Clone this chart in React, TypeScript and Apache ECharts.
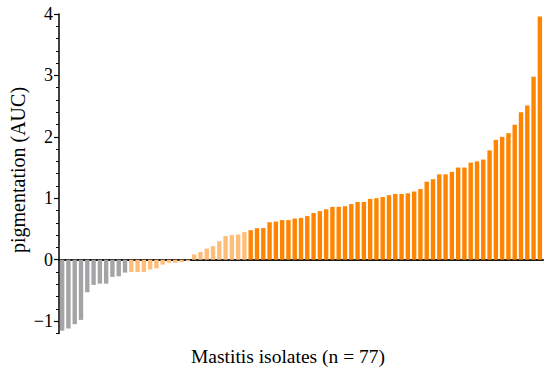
import React, { useEffect, useRef } from "react";
import * as echarts from "echarts";

// Sorted pigmentation values (AUC) of 77 mastitis isolates, in three colour groups
const grayValues = [-1.155, -1.12, -1.05, -0.98, -0.53, -0.41, -0.39, -0.39, -0.28, -0.27, -0.21];
const lightValues = [
  -0.2, -0.2, -0.2, -0.16, -0.14, -0.08, -0.05, -0.05, -0.04, -0.02,
  0.087, 0.125, 0.18, 0.22, 0.3, 0.385, 0.4, 0.41, 0.45,
];
const orangeValues = [
  0.48, 0.51, 0.515, 0.61, 0.62, 0.645, 0.645, 0.67, 0.68, 0.71,
  0.76, 0.79, 0.82, 0.86, 0.86, 0.87, 0.905, 0.94, 0.94, 0.99,
  1.0, 1.02, 1.05, 1.07, 1.07, 1.08, 1.11, 1.15, 1.27, 1.31,
  1.39, 1.39, 1.43, 1.5, 1.5, 1.58, 1.6, 1.63, 1.78, 1.95,
  2.0, 2.06, 2.195, 2.4, 2.51, 2.98, 3.96,
];
const majorTicks = [-1, 0, 1, 2, 3, 4];
const minorTicks = [
  -1.2, -1.0, -0.8, -0.6, -0.4, -0.2, 0, 0.2, 0.4, 0.6, 0.8, 1.0, 1.2, 1.4, 1.6, 1.8,
  2.0, 2.2, 2.4, 2.6, 2.8, 3.0, 3.2, 3.4, 3.6, 3.8, 4.0,
];
const yLabel = "pigmentation (AUC)";
const xLabel = "Mastitis isolates (n = 77)";

const GRAY = "#a4a4a6";
const LIGHT = "#ffbd7a";
const ORANGE = "#ff8500";
const FONT = "'Liberation Serif', 'DejaVu Serif', serif";

export default function App() {
  const ref = useRef<HTMLDivElement>(null);
  useEffect(() => {
    if (!ref.current) return;
    const chart = echarts.init(ref.current, undefined, { renderer: "svg" });
    const data = [
      ...grayValues.map((v) => ({ value: v, itemStyle: { color: GRAY } })),
      ...lightValues.map((v) => ({ value: v, itemStyle: { color: LIGHT } })),
      ...orangeValues.map((v) => ({ value: v, itemStyle: { color: ORANGE } })),
    ];
    const cats = data.map((_, i) => String(i + 1));
    chart.setOption({
      animation: false,
      backgroundColor: "#ffffff",
      grid: { left: 59, right: 7, top: 14, bottom: 38.6, outerBoundsMode: "none" },
      xAxis: {
        type: "category",
        data: cats,
        axisLine: { onZero: true, lineStyle: { color: "#1a1a1a", width: 2 } },
        axisTick: { show: false },
        axisLabel: { show: false },
        splitLine: { show: false },
      },
      yAxis: [
        {
          type: "value",
          min: -1.2,
          max: 4,
          position: "left",
          splitLine: { show: false },
          axisLine: { show: true, lineStyle: { color: "#000", width: 1.5 } },
          axisTick: {
            show: true,
            customValues: majorTicks,
            length: 5,
            lineStyle: { color: "#000", width: 1.2 },
          },
          axisLabel: {
            customValues: majorTicks,
            formatter: (v: number) => (v < 0 ? "\u2212" + Math.abs(v) : String(v)),
            color: "#000",
            fontFamily: FONT,
            fontSize: 18,
            margin: 6,
          },
        },
        {
          type: "value",
          min: -1.2,
          max: 4,
          position: "left",
          offset: 0,
          splitLine: { show: false },
          axisLine: { show: false },
          axisTick: {
            show: true,
            customValues: minorTicks,
            length: 3,
            lineStyle: { color: "#000", width: 1 },
          },
          axisLabel: { show: false },
        },
      ],
      series: [
        {
          type: "bar",
          data,
          barCategoryGap: "30%",
          yAxisIndex: 0,
        },
      ],
      graphic: [
        {
          type: "text",
          x: 18,
          y: 170,
          rotation: Math.PI / 2,
          style: {
            text: yLabel,
            font: `20px ${FONT}`,
            fill: "#000",
            align: "center",
            verticalAlign: "middle",
          },
        },
        {
          type: "text",
          x: 288,
          y: 356,
          style: {
            text: xLabel,
            font: `19.5px ${FONT}`,
            fill: "#000",
            align: "center",
            verticalAlign: "middle",
          },
        },
      ],
    });
    return () => chart.dispose();
  }, []);
  return <div ref={ref} style={{ width: 550, height: 372, position: "absolute", left: 0, top: 0 }} />;
}
